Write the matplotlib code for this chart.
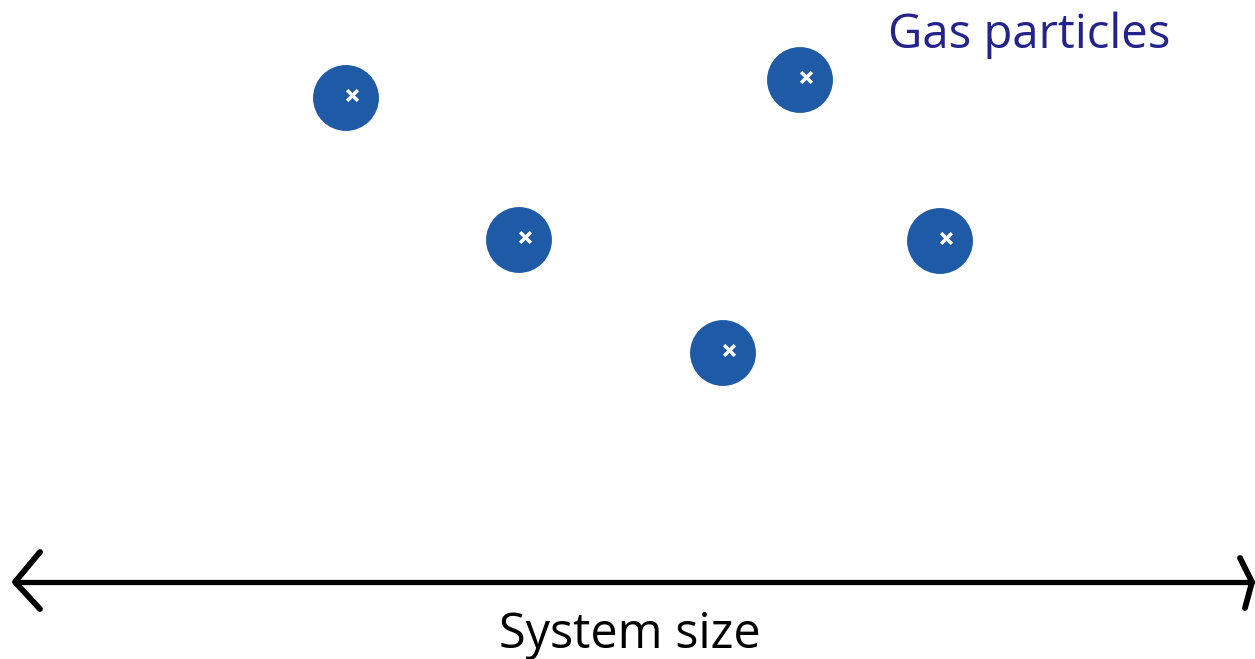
import matplotlib.pyplot as plt

# particle centres (pixel coords, y down)
particle_x = [346, 800, 519, 940, 723]
particle_y = [98, 80, 240, 241, 353]

arrow_y = 582
arrow_left = 15
arrow_right = 1252

title_text = "Gas particles"
axis_text = "System size"

blue = '#1f5aa6'
navy = '#23238c'

fig = plt.figure(figsize=(12.55, 6.59), dpi=100)
ax = fig.add_axes([0, 0, 1, 1])
ax.set_xlim(0, 1255)
ax.set_ylim(659, 0)
ax.set_axis_off()

# particles
ax.scatter(particle_x, particle_y, s=2250, color=blue, edgecolors='none', zorder=2)
ax.scatter([x + 6 for x in particle_x], [y - 3 for y in particle_y],
           s=60, color='white', marker='x', linewidths=2.5, zorder=3)

# double arrow
ax.plot([arrow_left, arrow_right], [arrow_y, arrow_y], color='black', lw=3.8,
        solid_capstyle='round')
ax.plot([arrow_left + 25, arrow_left, arrow_left + 25],
        [arrow_y - 30, arrow_y, arrow_y + 27], color='black', lw=4.2,
        solid_capstyle='round', solid_joinstyle='round')
ax.plot([arrow_right - 12, arrow_right, arrow_right - 7],
        [arrow_y - 24, arrow_y, arrow_y + 26], color='black', lw=4.2,
        solid_capstyle='round', solid_joinstyle='round')

ax.text(1029, 35, title_text, color=navy, fontsize=34, family='Open Sans',
        ha='center', va='center')
ax.text(630, 635, axis_text, color='black', fontsize=35, family='Open Sans',
        ha='center', va='center')

fig.savefig("out.png", dpi=100)
